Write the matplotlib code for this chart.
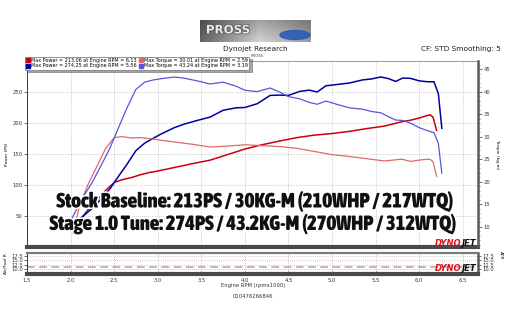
import matplotlib
matplotlib.use('Agg')
import matplotlib.pyplot as plt
import matplotlib.patheffects as pe
from matplotlib import font_manager
from matplotlib.lines import Line2D
from matplotlib.patches import Ellipse
import numpy as np

# ---------------- data ----------------
rpm_stock = [2.03, 2.10, 2.20, 2.30, 2.40, 2.50, 2.59, 2.70, 2.80, 2.90, 3.00, 3.20, 3.40,
             3.60, 3.80, 4.00, 4.20, 4.40, 4.60, 4.80, 5.00, 5.20, 5.40, 5.60, 5.80, 5.90,
             6.00, 6.10, 6.13, 6.16, 6.20]
stock_power = [24, 42, 60, 75, 91, 104, 108.5, 112, 116.5, 120, 122.5, 128.5, 134.5,
               140, 149, 158, 165, 171, 176.5, 180.5, 183, 186.5, 191, 195, 202, 204.5,
               208, 212.5, 213.06, 209, 188]
stock_torque = [8.5, 14.5, 19.4, 23.3, 27.3, 29.8, 30.01, 29.7, 29.8, 29.6, 29.3, 28.8, 28.3,
                27.7, 27.9, 28.2, 28.0, 27.8, 27.4, 26.7, 26.0, 25.6, 25.1, 24.6, 25.0, 24.5,
                24.8, 25.0, 24.9, 24.4, 21.2]

rpm_stage = [1.97, 2.05, 2.15, 2.25, 2.35, 2.45, 2.55, 2.65, 2.75, 2.85, 2.95, 3.05, 3.19,
             3.30, 3.45, 3.60, 3.75, 3.90, 4.00, 4.14, 4.29, 4.40, 4.50, 4.63, 4.74, 4.83,
             4.93, 5.05, 5.20, 5.35, 5.45, 5.56, 5.65, 5.73, 5.81, 5.90, 6.00, 6.10, 6.17,
             6.22, 6.26]
stage_power = [27.5, 38, 50.5, 62.5, 77.5, 93.5, 114, 134, 155.5, 167.5, 175.5, 183, 192.5,
               198, 204, 209.5, 220.5, 224.5, 225, 231, 244.5, 245, 244.5, 251, 253, 250,
               260, 262, 264.5, 269.5, 271, 274.25, 271.5, 267, 272.5, 272, 268, 266.5, 266.5,
               247.5, 191.5]
stage_torque = [10.0, 13.2, 16.8, 19.9, 23.6, 27.4, 32.0, 36.5, 40.5, 42.1, 42.6, 42.9, 43.24,
                43.0, 42.4, 41.7, 42.1, 41.2, 40.3, 40.0, 40.8, 39.9, 38.9, 38.4, 37.6, 37.2,
                37.9, 37.2, 36.4, 36.1, 35.6, 35.3, 34.4, 33.7, 33.6, 33.0, 32.0, 31.3, 30.9,
                28.5, 21.9]

afr_target = 11.4

legend_labels = ["Max Power = 213.06 at Engine RPM = 6.13",
                 "Max Power = 274.25 at Engine RPM = 5.56",
                 "Max Torque = 30.01 at Engine RPM = 2.59",
                 "Max Torque = 43.24 at Engine RPM = 3.19"]

power_ticks = [50, 100, 150, 200, 250]
torque_ticks = [10, 15, 20, 25, 30, 35, 40, 45]
afr_ticks = [10.0, 12.5, 15.0, 17.5]
rpm_ticks = [1.5, 2.0, 2.5, 3.0, 3.5, 4.0, 4.5, 5.0, 5.5, 6.0, 6.5]

line1 = "Stock Baseline: 213PS / 30KG-M (210WHP / 217WTQ)"
line2 = "Stage 1.0 Tune: 274PS / 43.2KG-M (270WHP / 312WTQ)"

# ---------------- colors ----------------
C_STOCK_P = '#c8000f'
C_STOCK_T = '#e06868'
C_STAGE_P = '#0000a0'
C_STAGE_T = '#5656dc'


def find_condensed():
    keys = ['impact', 'anton', 'oswald', 'bebas', 'league gothic', 'narrow',
            'condensed', 'compressed']
    best = None
    for f in font_manager.fontManager.ttflist:
        name = (f.name + ' ' + f.fname).lower()
        stretch = str(f.stretch).lower()
        cond = any(k in name for k in keys) or 'condensed' in stretch
        if not cond:
            continue
        w = f.weight if isinstance(f.weight, int) else {'bold': 700, 'heavy': 800, 'black': 900}.get(str(f.weight), 400)
        italic = 'italic' in str(f.style) or 'oblique' in str(f.style)
        score = (0 if italic else 1, -abs(w - 900))
        if best is None or score > best[0]:
            best = (score, f)
    return best[1] if best else None

cf = find_condensed()
if cf is not None:
    BIG_FP = dict(fontproperties=font_manager.FontProperties(fname=cf.fname))
else:
    BIG_FP = dict(family='DejaVu Sans', fontweight='bold')

plt.rcParams['font.family'] = ['DejaVu Sans']

W, H = 512, 324
fig = plt.figure(figsize=(5.12, 3.24), dpi=100)
fig.patch.set_facecolor('white')


def fx(px):
    return px / W


def fy(py):
    return 1 - py / H


def rect(l, t, r, b):
    return [fx(l), fy(b), fx(r) - fx(l), fy(t) - fy(b)]


XMIN, XMAX = 1.5, 6.675

# ---------------- main axes ----------------
ax = fig.add_axes(rect(27, 61, 478, 247))
ax2 = ax.twinx()
ax.set_xlim(XMIN, XMAX)
ax.set_ylim(0, 300)
ax2.set_ylim(5.5, 46.8)

ax.set_xticks(rpm_ticks)
ax.set_yticks(power_ticks)
ax.tick_params(axis='x', length=0, labelbottom=False)
ax.tick_params(axis='y', labelsize=3.8, length=2, width=0.5, pad=1, colors='#333333')
ax.grid(True, color='#bdbdbd', linestyle=(0, (1, 1.5)), linewidth=0.6)

ax2.set_yticks(torque_ticks)
ax2.set_yticks(np.arange(6, 47, 1), minor=True)
ax2.tick_params(axis='y', which='major', labelsize=3.8, length=3, width=0.5, pad=1, colors='#333333')
ax2.tick_params(axis='y', which='minor', length=1.5, width=0.4, colors='#333333')

ax.plot(rpm_stock, stock_power, color=C_STOCK_P, lw=1.1, zorder=3)
ax.plot(rpm_stage, stage_power, color=C_STAGE_P, lw=1.1, zorder=3)
ax2.plot(rpm_stock, stock_torque, color=C_STOCK_T, lw=0.9, zorder=3)
ax2.plot(rpm_stage, stage_torque, color=C_STAGE_T, lw=0.9, zorder=3)

ax.set_ylabel('Power (PS)', fontsize=3.2, labelpad=3)
ax2.set_ylabel('Torque (kg-m)', fontsize=3.2, rotation=270, labelpad=6)

for a in (ax, ax2):
    for s in a.spines.values():
        s.set_visible(False)
ax.spines['left'].set_visible(True)
ax.spines['left'].set_color('#222222')
ax.spines['left'].set_linewidth(0.6)
ax.spines['top'].set_visible(True)
ax.spines['top'].set_color('#a0a0a0')
ax.spines['top'].set_linewidth(0.8)
ax.spines['bottom'].set_visible(True)
ax.spines['bottom'].set_color('#4a4a4a')
ax.spines['bottom'].set_linewidth(3.0)
ax2.spines['right'].set_visible(True)
ax2.spines['right'].set_color('#5a5a5a')
ax2.spines['right'].set_linewidth(1.8)

# ---------------- AFR axes ----------------
afr = fig.add_axes(rect(27, 253, 478, 274))
afr.set_xlim(XMIN, XMAX)
afr.set_ylim(7.4, 19.0)
afr.set_xticks(rpm_ticks)
afr.set_xticklabels([f"{v:.1f}" for v in rpm_ticks])
afr.set_xticks(np.arange(1.6, 6.65, 0.1), minor=True)
afr.set_yticks(afr_ticks)
afr.set_yticklabels([f"{v:.1f}" for v in afr_ticks])
afr.tick_params(axis='x', which='major', labelsize=3.8, length=2, width=0.5, direction='in', pad=3, colors='#333333')
afr.tick_params(axis='x', which='minor', length=1.5, width=0.4, direction='in')
afr.tick_params(axis='y', labelsize=3.8, length=2, width=0.5, pad=1, right=True, labelright=True, colors='#333333')
afr.grid(True, color='#bdbdbd', linestyle=(0, (1, 1.5)), linewidth=0.6)
afr.axhline(afr_target, color='#c89a9a', lw=1.1, linestyle=(0, (5, 3)))
afr.set_ylabel('Air/Fuel R', fontsize=3.2, labelpad=2)
afr.spines['left'].set_color('#222222')
afr.spines['left'].set_linewidth(0.6)
afr.spines['top'].set_color('#7a7a7a')
afr.spines['top'].set_linewidth(1.6)
afr.spines['bottom'].set_color('#4a4a4a')
afr.spines['bottom'].set_linewidth(3.0)
afr.spines['right'].set_color('#5a5a5a')
afr.spines['right'].set_linewidth(1.8)
fig.text(fx(501), fy(255), 'AFR', fontsize=3.2, rotation=270, ha='center', va='center')

fig.text(fx(253), fy(286), 'Engine RPM (rpmx1000)', fontsize=3.8, ha='center', va='center', color='#333333')
fig.text(fx(253), fy(296), '010476266846', fontsize=3.8, ha='center', va='center', color='#333333')

# ---------------- header ----------------
fig.text(fx(255), fy(49), 'Dynojet Research', fontsize=5.3, ha='center', va='center', color='#222222')
fig.text(fx(257), fy(56), 'PROSS', fontsize=2.8, ha='center', va='center', color='#444444')
fig.text(fx(501), fy(49), 'CF: STD Smoothing: 5', fontsize=5.3, ha='right', va='center', color='#222222')

logo = fig.add_axes(rect(200, 20, 311, 42))
grad = np.tile(np.concatenate([np.linspace(0.35, 0.75, 60), np.linspace(0.75, 0.55, 51)]), (22, 1))
vert = np.linspace(0.85, 1.1, 22)[:, None]
logo.imshow(np.clip(grad * vert, 0, 1), cmap='gray', vmin=0, vmax=1, aspect='auto', extent=(0, 111, 0, 22))
logo.add_patch(Ellipse((95, 7), 30, 9, color='#2a5cb8', alpha=0.9))
logo.text(28, 12, 'PROSS', fontsize=8.5, color='#e8e8e8', ha='center', va='center',
          fontweight='bold', path_effects=[pe.withStroke(linewidth=1, foreground='#505050')])
logo.set_xlim(0, 111)
logo.set_ylim(0, 22)
logo.axis('off')

# ---------------- legend ----------------
handles = [Line2D([], [], marker='s', ls='none', color=c, markersize=2.4)
           for c in (C_STOCK_P, C_STAGE_P, C_STOCK_T, C_STAGE_T)]
leg = fig.legend(handles, legend_labels, ncol=2, loc='upper left',
                 bbox_to_anchor=(fx(25), fy(56.5)), fontsize=3.5, frameon=True,
                 fancybox=False, shadow=True, handlelength=0.7, handletextpad=0.3,
                 columnspacing=0.5, borderpad=0.25, labelspacing=0.15, borderaxespad=0)
leg.get_frame().set_edgecolor('#808080')
leg.get_frame().set_linewidth(0.6)

# ---------------- DYNOJET marks ----------------
for yc in (244, 268.5):
    fig.text(fx(461), fy(yc), 'DYNO', fontsize=6.0, fontweight='bold',
             style='italic', color='#e0101a', ha='right', va='center')
    fig.text(fx(461), fy(yc), 'JET', fontsize=6.0, fontweight='bold',
             style='italic', color='#111111', ha='left', va='center')

# ---------------- overlay text ----------------
renderer = fig.canvas.get_renderer()
for txt, xc, yc, target_w in ((line1, 255, 201, 396), (line2, 253, 223.5, 406)):
    t = fig.text(fx(xc), fy(yc), txt, fontsize=12, color='#111111', ha='center', va='center',
                 zorder=10, path_effects=[pe.withStroke(linewidth=2.2, foreground='white')],
                 **BIG_FP)
    w = t.get_window_extent(renderer).width
    t.set_fontsize(12 * target_w / w)

fig.savefig('out.png', dpi=100)
